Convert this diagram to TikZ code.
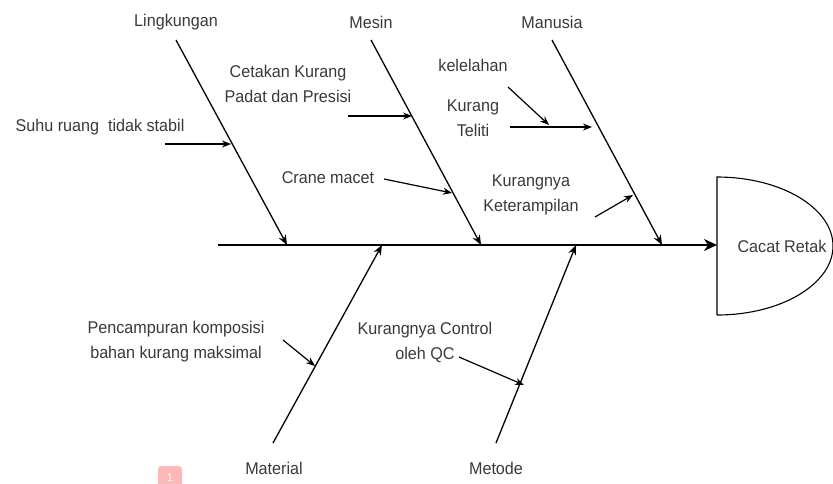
\documentclass[tikz,border=0pt]{standalone}
\usepackage{fontspec}
\setmainfont{Liberation Sans}
\usetikzlibrary{arrows.meta}
\definecolor{txt}{HTML}{3A3A3A}
\definecolor{marker}{HTML}{FFB8B8}
\tikzset{
  lbl/.style={text=txt, font=\fontsize{17}{25}\selectfont, inner sep=0pt, align=center, xscale=0.95},
  bone/.style={draw=black, line width=1.3pt, -{Stealth[length=10pt,width=8pt]}},
  sub/.style={draw=black, line width=1.2pt, -{Stealth[length=9pt,width=7pt]}},
  spine/.style={draw=black, line width=2.8pt, -{Stealth[length=13pt,width=12pt]}},
  headshape/.style={draw=black, line width=1.1pt, fill=white}
}
\begin{document}
\begin{tikzpicture}[x=1pt,y=-1pt]
\useasboundingbox (0,0) rectangle (833,483);
\fill[white] (0,0) rectangle (833,483);

% head
\path[headshape] (717,315) -- (717,177) .. controls (781,177) and (833,208) .. (833,246) .. controls (833,284) and (781,315) .. (717,315);
\node[lbl] (head) at (782,246) {Cacat Retak};

% spine
\coordinate (tail) at (218,245);
\coordinate (headL) at (717,245);
\draw[spine] (tail) -- (headL);

% category labels
\node[lbl] (ling) at (176,22) {Lingkungan};
\node[lbl] (mesin) at (371,22) {Mesin};
\node[lbl] (manusia) at (552,22) {Manusia};
\node[lbl] (material) at (274,468) {Material};
\node[lbl] (metode) at (496,468) {Metode};

% bone coordinates
\coordinate (lingS) at (176,40);
\coordinate (lingE) at (287,245);
\coordinate (mesinS) at (371,40);
\coordinate (mesinE) at (481,245);
\coordinate (manS) at (552,40);
\coordinate (manE) at (662,245);
\coordinate (matS) at (273,443);
\coordinate (matE) at (382,245);
\coordinate (metS) at (496,443);
\coordinate (metE) at (576,245);

\draw[bone] (lingS) -- (lingE);
\draw[bone] (mesinS) -- (mesinE);
\draw[bone] (manS) -- (manE);
\draw[bone] (matS) -- (matE);
\draw[bone] (metS) -- (metE);

% sub causes
\node[lbl] (suhu) at (100,127) {Suhu ruang\ \ tidak stabil};
\coordinate (suhuA) at (165,144);
\coordinate (suhuB) at (231,144);
\draw[sub] (suhuA) -- (suhuB);

\node[lbl] (cetak) at (288,84) {Cetakan Kurang\\Padat dan Presisi};
\coordinate (cetakA) at (348,116);
\coordinate (cetakB) at (412,116);
\draw[sub] (cetakA) -- (cetakB);

\node[lbl] (crane) at (328,178) {Crane macet};
\coordinate (craneA) at (384,179);
\coordinate (craneB) at (452,193);
\draw[sub] (craneA) -- (craneB);

\node[lbl] (lelah) at (473,65) {kelelahan};
\coordinate (lelahA) at (508,87);
\coordinate (lelahB) at (549,125);
\draw[sub] (lelahA) -- (lelahB);

\node[lbl] (teliti) at (473,118) {Kurang\\Teliti};
\coordinate (telitiA) at (510,127);
\coordinate (telitiB) at (592,127);
\draw[sub] (telitiA) -- (telitiB);

\node[lbl] (terampil) at (531,195) {Kurangnya\\Keterampilan};
\coordinate (terampilA) at (595,217);
\coordinate (terampilB) at (633,195);
\draw[sub] (terampilA) -- (terampilB);

\node[lbl] (campur) at (176,342) {Pencampuran komposisi\\bahan kurang maksimal};
\coordinate (campurA) at (283,340);
\coordinate (campurB) at (315,366);
\draw[sub] (campurA) -- (campurB);

\node[lbl] (qc) at (425,342) {Kurangnya Control\\oleh QC};
\coordinate (qcA) at (459,357);
\coordinate (qcB) at (524,385);
\draw[sub] (qcA) -- (qcB);

% page marker
\node[fill=marker, rounded corners=3pt, minimum width=24pt, minimum height=24pt, inner sep=0pt, text=white, font=\fontsize{11}{12}\selectfont] (mark) at (170,478) {1};
\end{tikzpicture}
\end{document}
